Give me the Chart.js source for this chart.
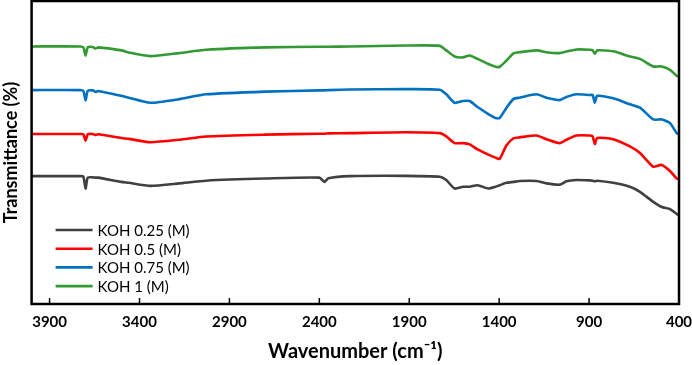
<!DOCTYPE html>
<html>
<head>
<meta charset="utf-8">
<script src="https://cdn.jsdelivr.net/npm/chart.js@4"></script>
<style>
  html, body { margin: 0; padding: 0; background: #fff; }
  #wrap { width: 692px; height: 365px; position: relative; }
</style>
</head>
<body>
<div id="wrap"><canvas id="ftir-chart"></canvas></div>
<script>
// wavenumbers (cm-1)
var wavenumbers = [4000, 3730, 3712, 3700, 3688, 3660, 3644, 3630, 3500, 3460, 3340, 3180, 3030, 2700, 2400, 2372, 2350, 2230, 1920, 1730,
    1694, 1648, 1602, 1564, 1520, 1460, 1420, 1397, 1360, 1320, 1286, 1193, 1137, 1063, 1026, 970, 896, 880, 868, 855,
    766, 673, 617, 543, 496, 450, 413, 400];

// transmittance, arbitrary offset scale
var koh025 = [42.2, 42.2, 42.0, 38.1, 41.7, 41.8, 41.7, 41.7, 40.3, 40.0, 39.0, 39.8, 40.7, 41.4, 41.7, 40.3, 41.5, 42.2, 42.3, 42.0,
    40.9, 38.1, 38.7, 38.7, 39.2, 38.1, 38.7, 39.2, 40.0, 40.3, 40.6, 40.6, 39.8, 39.4, 40.5, 40.9, 40.8, 40.7, 40.5, 40.7,
    40.0, 38.7, 37.0, 33.7, 32.0, 31.3, 29.7, 29.3];
var koh05 = [56.1, 56.1, 56.0, 53.9, 56.0, 56.1, 55.8, 56.0, 54.8, 54.5, 53.4, 54.2, 55.3, 55.9, 56.2, 56.2, 56.3, 56.4, 56.7, 56.4,
    55.3, 53.1, 53.1, 52.7, 51.0, 49.3, 48.3, 47.9, 52.3, 54.7, 55.0, 55.6, 54.4, 53.1, 54.2, 55.6, 55.6, 55.3, 52.8, 54.8,
    54.4, 52.0, 49.8, 45.3, 45.9, 43.9, 41.4, 41.3];
var koh075 = [70.6, 70.6, 70.3, 67.2, 70.3, 70.5, 70.0, 70.3, 68.7, 68.1, 66.4, 67.6, 69.2, 70.1, 70.5, 70.5, 70.6, 70.8, 70.9, 70.7,
    69.2, 66.4, 67.0, 67.0, 65.0, 62.7, 61.4, 61.4, 64.7, 67.7, 68.1, 69.2, 68.1, 67.3, 68.3, 69.2, 69.0, 69.0, 66.4, 68.7,
    67.9, 65.9, 64.8, 60.9, 60.9, 59.7, 56.4, 56.0];
var koh1 = [85.0, 85.0, 84.7, 82.0, 84.7, 84.8, 84.3, 84.7, 83.7, 83.0, 81.8, 82.8, 83.9, 84.7, 84.9, 84.9, 84.9, 85.0, 85.3, 85.2,
    83.7, 81.7, 81.4, 82.0, 80.9, 79.2, 78.3, 78.3, 80.3, 82.7, 83.1, 83.7, 83.1, 82.8, 83.3, 84.0, 83.9, 83.7, 82.6, 83.7,
    83.4, 81.7, 80.9, 78.4, 78.4, 77.3, 75.3, 75.0];

var seriesNames = ['KOH 0.25 (M)', 'KOH 0.5 (M)', 'KOH 0.75 (M)', 'KOH 1 (M)'];
var xTicks = [3900, 3400, 2900, 2400, 1900, 1400, 900, 400];

function pairs(ys) {
    return wavenumbers.map(function (w, i) { return { x: w, y: ys[i] }; });
}

function line(label, ys, color) {
    return {
        label: label,
        data: pairs(ys),
        borderColor: color,
        backgroundColor: color,
        borderWidth: 2.6,
        pointRadius: 0,
        tension: 0.2
    };
}

// frame round the plot + inward ticks on the x axis
var framePlugin = {
    id: 'frame',
    afterDraw: function (chart) {
        var c = chart.ctx, a = chart.chartArea, xs = chart.scales.x;
        c.save();
        c.strokeStyle = '#000';
        c.lineWidth = 2.5;
        c.strokeRect(a.left, a.top, a.right - a.left, a.bottom - a.top);
        c.lineWidth = 1.5;
        xTicks.forEach(function (t) {
            var px = xs.getPixelForValue(t);
            c.beginPath();
            c.moveTo(px, a.bottom);
            c.lineTo(px, a.bottom - 6);
            c.stroke();
        });
        c.restore();
    }
};

// legend inside the plot, lower left
var legendPlugin = {
    id: 'insideLegend',
    afterDraw: function (chart) {
        var c = chart.ctx, a = chart.chartArea;
        c.save();
        c.font = '15px Lato';
        c.textBaseline = 'middle';
        chart.data.datasets.forEach(function (ds, i) {
            var y = a.bottom - 74 + i * 18.7;
            c.strokeStyle = ds.borderColor;
            c.lineWidth = 2.6;
            c.beginPath();
            c.moveTo(a.left + 24, y);
            c.lineTo(a.left + 61, y);
            c.stroke();
            c.fillStyle = '#000';
            c.fillText(ds.label, a.left + 66, y + 1);
        });
        c.restore();
    }
};

new Chart(document.getElementById('ftir-chart'), {
    type: 'line',
    data: {
        datasets: [
            line(seriesNames[0], koh025, '#404040'),
            line(seriesNames[1], koh05, '#ff0000'),
            line(seriesNames[2], koh075, '#0070c0'),
            line(seriesNames[3], koh1, '#339933')
        ]
    },
    options: {
        responsive: true,
        maintainAspectRatio: false,
        animation: false,
        layout: { autoPadding: false, padding: { left: 0, right: 13, top: 1, bottom: 0 } },
        plugins: {
            legend: { display: false },
            tooltip: { enabled: false }
        },
        scales: {
            x: {
                type: 'linear',
                reverse: true,
                min: 400,
                max: 4000,
                afterBuildTicks: function (axis) {
                    axis.ticks = xTicks.map(function (v) { return { value: v }; });
                },
                afterFit: function (axis) {
                    axis.paddingLeft = 0;
                    axis.paddingRight = 0;
                },
                grid: { display: false, drawTicks: false },
                border: { display: false },
                ticks: {
                    color: '#000',
                    padding: 9,
                    maxRotation: 0,
                    autoSkip: false,
                    font: { family: 'Lato', size: 15, weight: 'bold' },
                    callback: function (v) { return String(v); }
                },
                title: {
                    display: true,
                    text: 'Wavenumber (cm⁻¹)',
                    color: '#000',
                    padding: { top: 0, bottom: 1 },
                    font: { family: 'Lato', size: 20, weight: 'bold' }
                }
            },
            y: {
                min: 0,
                max: 100,
                grid: { display: false, drawTicks: false },
                border: { display: false },
                ticks: { display: false },
                title: {
                    display: true,
                    text: 'Transmittance (%)',
                    color: '#000',
                    padding: { top: 0, bottom: 10 },
                    font: { family: 'Lato', size: 18, weight: 'bold' }
                }
            }
        }
    },
    plugins: [framePlugin, legendPlugin]
});
</script>
</body>
</html>
